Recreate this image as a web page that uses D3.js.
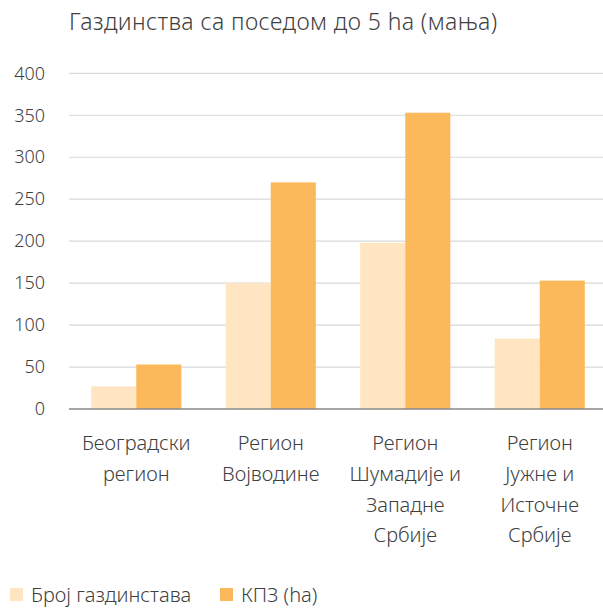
<!DOCTYPE html>
<html>
<head>
<meta charset="utf-8">
<script src="https://cdn.jsdelivr.net/npm/d3@7"></script>
<style>
  body { margin: 0; background: #fff; }
  text { font-family: "Noto Sans", "Open Sans", sans-serif; font-weight: 300; fill: #404040; }
</style>
</head>
<body>
<svg width="603" height="609"></svg>
<script>
// regions, with the line breaks used under the axis
const categories = [
  ['Београдски', 'регион'],
  ['Регион', 'Војводине'],
  ['Регион', 'Шумадије и', 'Западне', 'Србије'],
  ['Регион', 'Јужне и', 'Источне', 'Србије'],
];
const seriesNames = ['Број газдинстава', 'КПЗ (ha)'];
const brojGazdinstava = [27, 150, 198, 84];
const kpz = [53, 270, 353, 153];
const yTicks = [0, 50, 100, 150, 200, 250, 300, 350, 400];
const colors = ['#ffe5c2', '#fcb95b'];

const svg = d3.select('svg');

// plot area (the right edge runs a bit past the window, as in the source)
const plotLeft = 69, plotRight = 607, plotTop = 73.3, plotBottom = 409;

const x = d3.scaleBand()
  .domain(d3.range(categories.length))
  .range([plotLeft, plotRight])
  .paddingInner(0.33)
  .paddingOuter(0.165);

const xSeries = d3.scaleBand()
  .domain([0, 1])
  .range([0, x.bandwidth()]);

const y = d3.scaleLinear()
  .domain([0, 400])
  .range([plotBottom, plotTop]);

// title
svg.append('text')
  .attr('x', 69).attr('y', 30)
  .style('font-size', '23px')
  .style('letter-spacing', '0.4px')
  .text('Газдинства са поседом до 5 ha (мања)');

// gridlines
svg.append('g')
  .selectAll('line')
  .data(yTicks.filter(d => d > 0))
  .join('line')
  .attr('x1', plotLeft).attr('x2', plotRight)
  .attr('y1', d => y(d)).attr('y2', d => y(d))
  .attr('stroke', '#d9d9d9')
  .attr('stroke-width', 1.2);

// y axis labels
const yAxis = svg.append('g')
  .attr('transform', 'translate(45,0)')
  .call(d3.axisLeft(y).tickValues(yTicks).tickSize(0).tickPadding(0));
yAxis.select('.domain').remove();
yAxis.selectAll('text')
  .style('font-size', '18px')
  .style('font-family', '"Noto Sans", sans-serif')
  .style('font-weight', 300)
  .attr('fill', '#404040');

// bars
const data = categories.map((c, i) => [brojGazdinstava[i], kpz[i]]);
const groups = svg.append('g')
  .selectAll('g')
  .data(data)
  .join('g')
  .attr('transform', (d, i) => `translate(${x(i)},0)`);

groups.selectAll('rect')
  .data(d => d)
  .join('rect')
  .attr('x', (d, j) => xSeries(j))
  .attr('width', xSeries.bandwidth())
  .attr('y', d => y(d))
  .attr('height', d => y(0) - y(d))
  .attr('fill', (d, j) => colors[j]);

// x axis line
svg.append('line')
  .attr('x1', plotLeft).attr('x2', plotRight)
  .attr('y1', plotBottom).attr('y2', plotBottom)
  .attr('stroke', '#898989')
  .attr('stroke-width', 1.5);

// category labels
const labels = svg.append('g')
  .selectAll('text')
  .data(categories)
  .join('text')
  .attr('text-anchor', 'middle')
  .style('font-size', '20px')
  .attr('transform', (d, i) => `translate(${x(i) + x.bandwidth() / 2},450)`);

labels.selectAll('tspan')
  .data(d => d)
  .join('tspan')
  .attr('x', 0)
  .attr('y', (d, k) => k * 30.8)
  .text(d => d);

// legend
const legend = svg.append('g')
  .attr('transform', 'translate(10,602)');
const legendX = [0, 210];
seriesNames.forEach((name, i) => {
  legend.append('rect')
    .attr('x', legendX[i]).attr('y', -14)
    .attr('width', 13).attr('height', 13)
    .attr('fill', colors[i]);
  legend.append('text')
    .attr('x', legendX[i] + 21).attr('y', 0)
    .style('font-size', '20px')
    .text(name);
});
</script>
</body>
</html>
